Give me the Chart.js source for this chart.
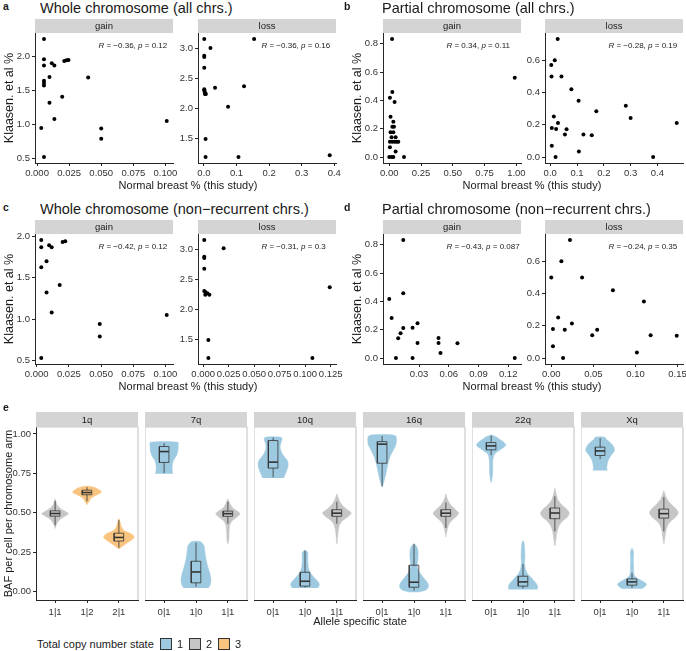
<!DOCTYPE html>
<html>
<head>
<meta charset="utf-8">
<script src="https://cdn.jsdelivr.net/npm/chart.js@4.4.1/dist/chart.umd.min.js"></script>
<style>
  body { margin: 0; background: #fff; }
  #fig { position: relative; width: 686px; height: 651px; overflow: hidden; font-family: "Liberation Sans", Arial, sans-serif; }
  canvas { position: absolute; }
  .t { position: absolute; white-space: nowrap; color: #1a1a1a; line-height: 1; z-index: 5; }
  .key { position: absolute; width: 10px; height: 10px; border: 1px solid #333; z-index: 5; }
</style>
</head>
<body>
<div id="fig"></div>
<script>
// ---- scatter data: [normal breast %, Klaasen %] ----
const aGain = [[0.0054,2.26],[0.0054,1.96],[0.0054,1.87],[0.0054,1.645],[0.0054,1.61],[0.0054,1.575],[0.0097,1.70],[0.0097,1.32],[0.0115,1.90],[0.0135,1.87],[0.0135,1.08],[0.0033,0.95],[0.0054,0.52],[0.0196,1.41],[0.0212,1.935],[0.023,1.945],[0.0245,1.95],[0.0398,1.69],[0.050,0.94],[0.050,0.79],[0.101,1.05]]
const aLoss = [[0.001,3.16],[0.001,2.88],[0.001,2.86],[0.001,2.68],[0.001,2.32],[0.001,2.30],[0.003,2.27],[0.006,2.24],[0.003,2.24],[0.02,3.01],[0.034,2.345],[0.005,1.49],[0.005,1.19],[0.074,2.03],[0.106,1.19],[0.123,2.37],[0.154,3.16],[0.386,1.22]]
const bGain = [[0.022,0.835],[0.024,0.46],[0.005,0.42],[0.042,0.39],[0.01,0.285],[0.032,0.25],[0.024,0.215],[0.037,0.215],[0.01,0.175],[0.032,0.175],[0.018,0.14],[0.05,0.14],[0.005,0.108],[0.024,0.108],[0.042,0.108],[0.058,0.108],[0.071,0.108],[0.05,0.04],[0.005,0.07],[0,0],[0.018,0],[0.032,0],[0.116,0],[0.987,0.56]]
const bLoss = [[0.028,0.733],[0.017,0.60],[0.004,0.571],[0.005,0.50],[0.042,0.50],[0.079,0.421],[0.106,0.35],[0.172,0.285],[0.282,0.319],[0.30,0.242],[0.0135,0.252],[0.029,0.212],[0.006,0.181],[0.022,0.175],[0.061,0.173],[0.055,0.14],[0.124,0.14],[0.155,0.135],[0.006,0.071],[0.02,0],[0.107,0.035],[0.384,0],[0.472,0.212]]
const cGain = [[0.0036,1.955],[0.0036,1.867],[0.0036,1.624],[0.0077,1.697],[0.0097,1.89],[0.0117,1.867],[0.0077,1.32],[0.0179,1.41],[0.0117,1.08],[0.0036,0.53],[0.0202,1.93],[0.0222,1.94],[0.049,0.94],[0.049,0.79],[0.101,1.05]]
const cLoss = [[0.001,3.16],[0.001,2.88],[0.001,2.86],[0.001,2.68],[0.001,2.31],[0.002,2.29],[0.004,2.27],[0.006,2.245],[0.002,2.245],[0.02,3.02],[0.005,1.49],[0.005,1.19],[0.107,1.19],[0.124,2.37]]
const dGain = [[0.0141,0.835],[0.0141,0.459],[0.0,0.417],[0.0024,0.284],[0.0141,0.213],[0.0114,0.175],[0.009,0.14],[0.0067,0.0],[0.0235,0.215],[0.0285,0.246],[0.0285,0.107],[0.0235,0.0],[0.0497,0.142],[0.0497,0.107],[0.0517,0.036],[0.0688,0.104],[0.1266,0.0]]
const dLoss = [[0.0222,0.733],[0.012,0.60],[0.0,0.50],[0.0366,0.50],[0.0732,0.421],[0.110,0.351],[0.0082,0.251],[0.0245,0.214],[0.002,0.18],[0.016,0.176],[0.0545,0.176],[0.0487,0.141],[0.118,0.141],[0.149,0.139],[0.002,0.073],[0.014,0.0],[0.1017,0.035]]

// correlation labels, in panel order a-gain, a-loss, b-gain, b-loss, c..., d...
const corR = [-0.36, -0.36, 0.34, -0.28, -0.42, -0.31, -0.43, -0.24]
const corP = ['0.12', '0.16', '0.11', '0.19', '0.12', '0.3', '0.087', '0.35']

// tick labels
const aGainX = ['0.000','0.025','0.050','0.075','0.100'], aGainY = ['0.5','1.0','1.5','2.0']
const aLossX = ['0.0','0.1','0.2','0.3','0.4'], aLossY = ['1.5','2.0','2.5','3.0']
const bGainX = ['0.00','0.25','0.50','0.75','1.00'], bGainY = ['0.0','0.2','0.4','0.6','0.8']
const bLossX = ['0.0','0.1','0.2','0.3','0.4'], bLossY = ['0.0','0.2','0.4','0.6']
const cGainX = ['0.000','0.025','0.050','0.075','0.100'], cGainY = ['0.5','1.0','1.5','2.0']
const cLossX = ['0.000','0.025','0.050','0.075','0.100','0.125'], cLossY = ['1.5','2.0','2.5','3.0']
const dGainX = ['0.03','0.06','0.09','0.12'], dGainY = ['0.0','0.2','0.4','0.6','0.8']
const dLossX = ['0.00','0.05','0.10','0.15'], dLossY = ['0.0','0.2','0.4','0.6']
const eY = ['0.00','0.25','0.50','0.75','1.00']

// ---- panel e: BAF per chromosome arm ----
const armNames = ['1q', '7q', '10q', '16q', '22q', 'Xq']
const armStates = [
  ['1|1','1|2','2|1'], ['0|1','1|0','1|1'], ['0|1','1|0','1|1'],
  ['0|1','1|0','1|1'], ['0|1','1|0','1|1'], ['0|1','1|0','1|1']
]
const armCopy = [[2,3,3],[1,1,2],[1,1,2],[1,1,2],[1,1,2],[1,1,2]]
// box stats: [lower whisker, q1, median, q3, upper whisker]
const armBoxes = [
  [[0.42,0.478,0.495,0.512,0.575],[0.572,0.614,0.628,0.643,0.662],[0.278,0.32,0.343,0.37,0.455]],
  [[0.751,0.819,0.888,0.92,0.941],[0.03,0.055,0.124,0.192,0.31],[0.43,0.477,0.494,0.51,0.57]],
  [[0.724,0.783,0.821,0.958,0.977],[0.025,0.034,0.065,0.122,0.26],[0.43,0.477,0.497,0.519,0.57]],
  [[0.667,0.814,0.935,0.951,0.987],[0.006,0.027,0.059,0.167,0.302],[0.403,0.477,0.497,0.519,0.565]],
  [[0.865,0.899,0.924,0.945,0.989],[0.019,0.034,0.061,0.097,0.175],[0.382,0.462,0.498,0.53,0.603]],
  [[0.84,0.863,0.892,0.916,0.973],[0.023,0.04,0.061,0.08,0.118],[0.382,0.466,0.494,0.523,0.599]]
]
// violin outlines: [BAF, half width]
const armViolins = [
  [
    [[0.40,0],[0.43,0.05],[0.456,0.14],[0.477,0.30],[0.494,0.42],[0.508,0.32],[0.53,0.15],[0.551,0.06],[0.589,0]],
    [[0.551,0],[0.57,0.06],[0.59,0.12],[0.605,0.22],[0.62,0.38],[0.632,0.45],[0.645,0.38],[0.66,0.25],[0.667,0.1],[0.669,0]],
    [[0.27,0],[0.285,0.1],[0.3,0.2],[0.32,0.35],[0.345,0.48],[0.365,0.4],[0.385,0.18],[0.41,0.08],[0.44,0.04],[0.462,0]]
  ],
  [
    [[0.747,0.27],[0.78,0.25],[0.81,0.26],[0.835,0.3],[0.86,0.38],[0.89,0.43],[0.92,0.44],[0.947,0.43]],
    [[0.023,0.38],[0.04,0.44],[0.07,0.47],[0.11,0.44],[0.15,0.38],[0.2,0.32],[0.25,0.28],[0.29,0.25],[0.315,0.15],[0.32,0]],
    [[0.304,0.01],[0.33,0.03],[0.38,0.04],[0.42,0.06],[0.45,0.14],[0.475,0.3],[0.494,0.38],[0.51,0.3],[0.53,0.15],[0.56,0.06],[0.589,0]]
  ],
  [
    [[0.72,0.33],[0.745,0.38],[0.77,0.43],[0.80,0.47],[0.83,0.45],[0.87,0.3],[0.91,0.22],[0.94,0.24],[0.965,0.28],[0.979,0.25]],
    [[0.023,0.4],[0.04,0.45],[0.06,0.42],[0.08,0.33],[0.11,0.2],[0.14,0.12],[0.18,0.09],[0.22,0.09],[0.25,0.08],[0.262,0]],
    [[0.304,0.01],[0.34,0.02],[0.38,0.04],[0.42,0.08],[0.45,0.18],[0.475,0.35],[0.498,0.45],[0.52,0.32],[0.55,0.16],[0.58,0.07],[0.62,0]]
  ],
  [
    [[0.662,0],[0.7,0.06],[0.75,0.12],[0.8,0.17],[0.85,0.24],[0.89,0.33],[0.93,0.43],[0.96,0.45],[0.985,0.43],[0.994,0.3]],
    [[-0.004,0.1],[0.01,0.38],[0.03,0.45],[0.05,0.44],[0.075,0.35],[0.1,0.25],[0.13,0.15],[0.16,0.1],[0.2,0.12],[0.24,0.13],[0.28,0.1],[0.304,0]],
    [[0.346,0],[0.38,0.03],[0.42,0.08],[0.45,0.18],[0.475,0.32],[0.497,0.4],[0.52,0.3],[0.55,0.15],[0.58,0.06],[0.62,0]]
  ],
  [
    [[0.694,0.01],[0.72,0.03],[0.76,0.05],[0.8,0.05],[0.84,0.06],[0.87,0.1],[0.895,0.25],[0.915,0.4],[0.93,0.46],[0.95,0.38],[0.97,0.24],[0.985,0.12],[0.994,0]],
    [[0.013,0.44],[0.03,0.46],[0.05,0.42],[0.07,0.33],[0.09,0.25],[0.11,0.15],[0.14,0.08],[0.18,0.05],[0.22,0.06],[0.27,0.05],[0.319,0.02]],
    [[0.291,0.01],[0.33,0.03],[0.38,0.07],[0.42,0.14],[0.45,0.26],[0.475,0.4],[0.498,0.45],[0.52,0.38],[0.55,0.22],[0.58,0.1],[0.62,0.04],[0.656,0]]
  ],
  [
    [[0.768,0.22],[0.79,0.21],[0.815,0.23],[0.84,0.27],[0.865,0.35],[0.895,0.45],[0.92,0.42],[0.945,0.32],[0.965,0.2],[0.979,0.15]],
    [[0.017,0.3],[0.03,0.4],[0.045,0.45],[0.06,0.38],[0.075,0.25],[0.09,0.12],[0.11,0.06],[0.14,0.05],[0.17,0.05],[0.2,0.04],[0.24,0.05],[0.27,0.02]],
    [[0.304,0.01],[0.34,0.03],[0.38,0.06],[0.42,0.12],[0.45,0.24],[0.475,0.38],[0.498,0.45],[0.52,0.4],[0.55,0.25],[0.58,0.12],[0.61,0.05],[0.641,0]]
  ]
]
const copyCols = ['#9ecae1', '#c6c6c6', '#f9c47f']

// ---------------------------------------------------------------
Chart.defaults.font.family = '"Liberation Sans", Arial, sans-serif'
Chart.defaults.color = '#1a1a1a'
Chart.defaults.animation = false

const fig = document.getElementById('fig')
const AXIS_COL = '#262626'
const STRIP_FILL = '#d4d4d4'
const TICK_SIZE = 9.5

function expand(vals, f = 0.05) {
  const lo = Math.min(...vals), hi = Math.max(...vals), d = (hi - lo) * f
  return [lo - d, hi + d]
}

function addCanvas(left, top, w, h) {
  const c = document.createElement('canvas')
  c.width = w
  c.height = h
  c.style.left = left + 'px'
  c.style.top = top + 'px'
  c.style.width = w + 'px'
  c.style.height = h + 'px'
  fig.appendChild(c)
  return c
}

function text(s, x, y, size, opts = {}) {
  const d = document.createElement('div')
  d.className = 't'
  d.textContent = s
  d.style.fontSize = size + 'px'
  d.style.left = x + 'px'
  d.style.top = y + 'px'
  d.style.transform = opts.center ? 'translate(-50%,-50%)' : 'translateY(-50%)'
  if (opts.bold) d.style.fontWeight = 'bold'
  fig.appendChild(d)
}

function axisOpts(dir, min, max, labels, size, title, values, pad = 2) {
  const vals = values || labels.map(Number)
  return {
    type: 'linear', min, max,
    afterBuildTicks: s => { s.ticks = vals.map(v => ({value: v})) },
    afterFit: s => { if (dir === 'x') s.height = size; else s.width = size },
    ticks: {autoSkip: false, maxRotation: 0, minRotation: 0, padding: pad, color: '#333', font: {size: TICK_SIZE},
      callback: (v, i) => labels[i]},
    grid: {display: true, drawOnChartArea: false, drawTicks: true, tickLength: 3, color: AXIS_COL},
    border: {display: true, color: AXIS_COL, width: 1},
    title: title
      ? {display: true, text: title, color: '#1a1a1a', font: {size: 12.5}, padding: {top: 2, bottom: 0}}
      : {display: false}
  }
}

function stripPlugin(label, h, extra) {
  return {
    id: 'strip',
    afterDraw(chart) {
      const {ctx, chartArea: a} = chart
      if (extra) extra(chart)
      ctx.save()
      ctx.fillStyle = STRIP_FILL
      ctx.fillRect(a.left, a.top - h, a.right - a.left, h)
      ctx.fillStyle = '#1a1a1a'
      ctx.font = '9.5px "Liberation Sans", Arial, sans-serif'
      ctx.textAlign = 'center'
      ctx.textBaseline = 'middle'
      ctx.fillText(label, (a.left + a.right) / 2, a.top - h / 2 + 0.5)
      ctx.restore()
    }
  }
}

function corText(r, p) {
  const rs = r < 0 ? '\u2212' + Math.abs(r).toFixed(2) : r.toFixed(2)
  return chart => {
    const {ctx, chartArea: a} = chart
    const parts = [['R', true], [' = ' + rs + ', ', false], ['p', true], [' = ' + p, false]]
    let x = a.left + 0.46 * (a.right - a.left)
    ctx.save()
    ctx.fillStyle = '#1a1a1a'
    ctx.textAlign = 'left'
    ctx.textBaseline = 'middle'
    for (const [s, it] of parts) {
      ctx.font = (it ? 'italic ' : '') + '8px "Liberation Sans", Arial, sans-serif'
      ctx.fillText(s, x, a.top + 13)
      x += ctx.measureText(s).width
    }
    ctx.restore()
  }
}

function scatterPanel(pts, xLab, yLab, plotLeft, plotTop, strip, k, yTitle) {
  const PW = 138, PH = 130, SH = 14, XH = 16, PADR = 16
  const yW = yTitle ? 35 : 30
  const c = addCanvas(plotLeft - yW, plotTop - SH, yW + PW + PADR, SH + PH + XH)
  const [x0, x1] = expand(pts.map(p => p[0]))
  const [y0, y1] = expand(pts.map(p => p[1]))
  new Chart(c, {
    type: 'scatter',
    data: {datasets: [{
      data: pts.map(([x, y]) => ({x, y})),
      pointRadius: 2, pointBackgroundColor: '#000', pointBorderWidth: 0
    }]},
    options: {
      responsive: false,
      layout: {padding: {top: SH, right: PADR, left: 0, bottom: 0}},
      plugins: {legend: {display: false}, tooltip: {enabled: false}},
      scales: {
        x: axisOpts('x', x0, x1, xLab, XH),
        y: axisOpts('y', y0, y1, yLab, yW, yTitle)
      }
    },
    plugins: [stripPlugin(strip, SH, corText(corR[k], corP[k]))]
  })
}

// ---- rows a/b and c/d ----
scatterPanel(aGain, aGainX, aGainY, 35, 33, 'gain', 0, 'Klaasen. et al %')
scatterPanel(aLoss, aLossX, aLossY, 198, 33, 'loss', 1)
scatterPanel(bGain, bGainX, bGainY, 383, 33, 'gain', 2, 'Klaasen. et al %')
scatterPanel(bLoss, bLossX, bLossY, 545, 33, 'loss', 3)
scatterPanel(cGain, cGainX, cGainY, 35, 234, 'gain', 4, 'Klaasen. et al %')
scatterPanel(cLoss, cLossX, cLossY, 198, 234, 'loss', 5)
scatterPanel(dGain, dGainX, dGainY, 383, 234, 'gain', 6, 'Klaasen. et al %')
scatterPanel(dLoss, dLossX, dLossY, 545, 234, 'loss', 7)

// ---- row e ----
const eLefts = [36, 145, 254, 363, 472, 581]
const allBaf = armViolins.flat().flat().map(p => p[0])
const [eMin, eMax] = expand(allBaf)

function borderLines(first) {
  return chart => {
    const {ctx, chartArea: a} = chart
    ctx.save()
    ctx.strokeStyle = '#cccccc'
    ctx.lineWidth = 1.2
    ctx.beginPath()
    if (first) ctx.moveTo(a.left, a.top)
    else { ctx.moveTo(a.left, a.bottom); ctx.lineTo(a.left, a.top) }
    ctx.lineTo(a.right, a.top)
    ctx.lineTo(a.right, a.bottom)
    ctx.stroke()
    ctx.restore()
  }
}

function violinPanel(k) {
  const PW = 102, PH = 173, SH = 15, XH = 20, PADR = 10
  const first = k === 0
  const yW = first ? 36 : 0
  const c = addCanvas(eLefts[k] - yW, 427 - SH, yW + PW + PADR, SH + PH + XH)
  const datasets = []
  armStates[k].forEach((st, j) => {
    const cx = j + 1
    const prof = armViolins[k][j]
    const col = copyCols[armCopy[k][j] - 1]
    const [lo, q1, md, q3, hi] = armBoxes[k][j]
    const bw = 0.15
    datasets.push({
      type: 'line', order: 0,
      data: [
        {x: cx, y: lo}, {x: cx, y: q1}, {x: cx, y: null},
        {x: cx - bw, y: q1}, {x: cx + bw, y: q1}, {x: cx + bw, y: q3}, {x: cx - bw, y: q3}, {x: cx - bw, y: q1},
        {x: cx, y: null}, {x: cx, y: q3}, {x: cx, y: hi}
      ],
      borderColor: '#333', borderWidth: 0.8, pointRadius: 0, fill: false, spanGaps: false, tension: 0
    })
    datasets.push({
      type: 'line', order: 0,
      data: [{x: cx - bw, y: md}, {x: cx + bw, y: md}],
      borderColor: '#333', borderWidth: 1.6, pointRadius: 0, fill: false
    })
    datasets.push({
      type: 'line', order: 1,
      data: [
        ...prof.map(([v, w]) => ({x: cx - w, y: v})),
        ...prof.slice().reverse().map(([v, w]) => ({x: cx + w, y: v}))
      ],
      backgroundColor: col, borderColor: col, borderWidth: 0.5, pointRadius: 0, fill: 'shape', tension: 0.3
    })
  })
  const yAxis = first
    ? axisOpts('y', eMin, eMax, eY, yW, 'BAF per cell per chromosome arm')
    : {type: 'linear', display: false, min: eMin, max: eMax}
  if (first) yAxis.title.font = {size: 11}
  new Chart(c, {
    type: 'line',
    data: {datasets},
    options: {
      responsive: false,
      layout: {padding: {top: SH, right: PADR, left: 0, bottom: 0}},
      plugins: {legend: {display: false}, tooltip: {enabled: false}},
      scales: {
        x: axisOpts('x', 0.4, 3.6, armStates[k], XH, null, [1, 2, 3], 4),
        y: yAxis
      }
    },
    plugins: [stripPlugin(armNames[k], SH, borderLines(first))]
  })
}
armNames.forEach((n, k) => violinPanel(k))

// ---- text ----
text('a', 3, 6, 10.5, {bold: true})
text('Whole chromosome (all chrs.)', 40, 8, 14.5)
text('b', 344, 6, 10.5, {bold: true})
text('Partial chromosome (all chrs.)', 382, 8, 14.5)
text('c', 3, 207, 10.5, {bold: true})
text('Whole chromosome (non\u2212recurrent chrs.)', 40, 209, 14.5)
text('d', 344, 207, 10.5, {bold: true})
text('Partial chromosome (non\u2212recurrent chrs.)', 382, 209, 14.5)
text('e', 3, 407, 10.5, {bold: true})
text('Normal breast % (this study)', 188, 185, 11, {center: true})
text('Normal breast % (this study)', 532, 185, 11, {center: true})
text('Normal breast % (this study)', 188, 386, 11, {center: true})
text('Normal breast % (this study)', 532, 386, 11, {center: true})
text('Allele specific state', 360, 621, 11, {center: true})

// legend
text('Total copy number state', 37, 644, 11)
const keyX = [160, 189, 218]
copyCols.forEach((col, i) => {
  const k = document.createElement('div')
  k.className = 'key'
  k.style.left = keyX[i] + 'px'
  k.style.top = '638px'
  k.style.background = col
  fig.appendChild(k)
  text(String(i + 1), keyX[i] + 17, 644, 11)
})
</script>
</body>
</html>
